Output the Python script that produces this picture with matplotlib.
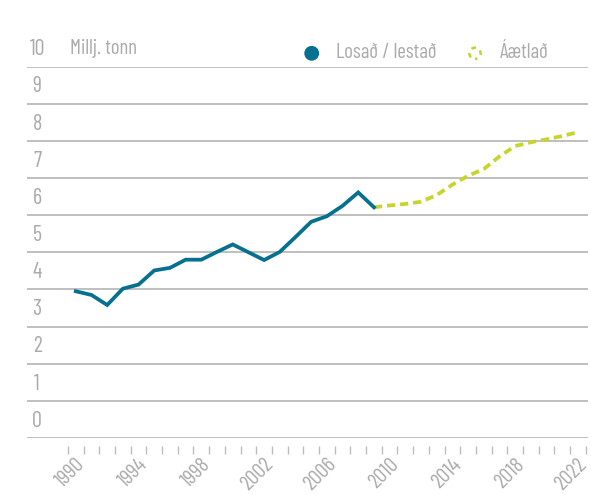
import numpy as np
import matplotlib
matplotlib.use("Agg")
import matplotlib.pyplot as plt
from matplotlib.patches import Circle
from matplotlib.transforms import ScaledTranslation

# data (million tonnes)
years_hist = list(range(1990, 2010))
hist = [3.95, 3.85, 3.58, 4.02, 4.13, 4.51, 4.58, 4.80, 4.80, 5.01,
        5.21, 5.00, 4.79, 5.01, 5.41, 5.82, 5.97, 6.25, 6.61, 6.21]
years_proj = list(range(2009, 2023))
proj = [6.21, 6.26, 6.30, 6.36, 6.54, 6.82, 7.06, 7.24, 7.58, 7.86,
        7.96, 8.04, 8.13, 8.23]
x_labels = list(range(1990, 2023, 4))
y_ticks = list(range(0, 11))

blue = "#05708f"
lime = "#c8d42c"
grey_txt = "#ababab"
grey_line = "#b4b4b4"

plt.rcParams['font.family'] = ['Barlow Condensed', 'DejaVu Sans']
plt.rcParams['font.weight'] = 'normal'

W, H = 591, 495
fig = plt.figure(figsize=(W / 100, H / 100), dpi=100)
ax = fig.add_axes([27 / W, (H - 438) / H, (588 - 27) / W, (438 - 66.5) / H])

ax.set_xlim(1986.89, 2022.64)
ax.set_ylim(0, 10)

for s in ax.spines.values():
    s.set_visible(False)

# horizontal grid
for v in y_ticks:
    ax.axhline(v, color=grey_line, lw=1.2, zorder=1)

# y labels sit just above their gridline
for v in y_ticks:
    ax.text(0.018, v + 0.45, str(v), transform=ax.get_yaxis_transform(),
            ha="center", va="center", fontsize=16, color=grey_txt, clip_on=False)
ax.set_yticks([])

ax.text(70 / W, (H - 48) / H, "Millj. tonn", transform=fig.transFigure,
        ha="left", va="center", fontsize=15, color=grey_txt)

# lines
ax.plot(years_hist, hist, color=blue, lw=2.7, solid_joinstyle="miter", zorder=3)
ax.plot(years_proj, proj, color=lime, lw=2.7, ls=(0, (2.2, 1.3)), zorder=2)

# x axis: tick marks between years, labels every 4 years
ax.spines['bottom'].set_position(('outward', 6))
ax.set_xticks(np.arange(1989.5, 2023, 1), minor=True)
ax.set_xticks(x_labels)
ax.set_xticklabels([str(y) for y in x_labels])
ax.tick_params(axis="x", which="minor", length=5.8, width=1.0, color="#bdbdbd")
ax.tick_params(axis="x", which="major", length=0, pad=11, labelsize=15.5, labelcolor=grey_txt)
off = ScaledTranslation(6 / 100, 0, fig.dpi_scale_trans)
for lab in ax.get_xticklabels():
    lab.set_rotation(45)
    lab.set_ha("right")
    lab.set_va("center")
    lab.set_rotation_mode("anchor")
    lab.set_transform(lab.get_transform() + off)

# legend drawn by hand
fig.add_artist(Circle((311.7 / 100, (H - 53.3) / 100), 6.7 / 100, color=blue,
                      transform=fig.dpi_scale_trans))
fig.add_artist(Circle((475 / 100, (H - 53.3) / 100), 5.6 / 100, facecolor="none",
                      edgecolor=lime, lw=1.9, ls=(0.9, (1.8, 1.8)),
                      transform=fig.dpi_scale_trans))
fig.text(335.7 / W, (H - 53) / H, "Losað / lestað", ha="left", va="center",
         fontsize=15, color=grey_txt)
fig.text(500 / W, (H - 53) / H, "Áætlað", ha="left", va="center",
         fontsize=15, color=grey_txt)

fig.savefig("out.png", dpi=100)
